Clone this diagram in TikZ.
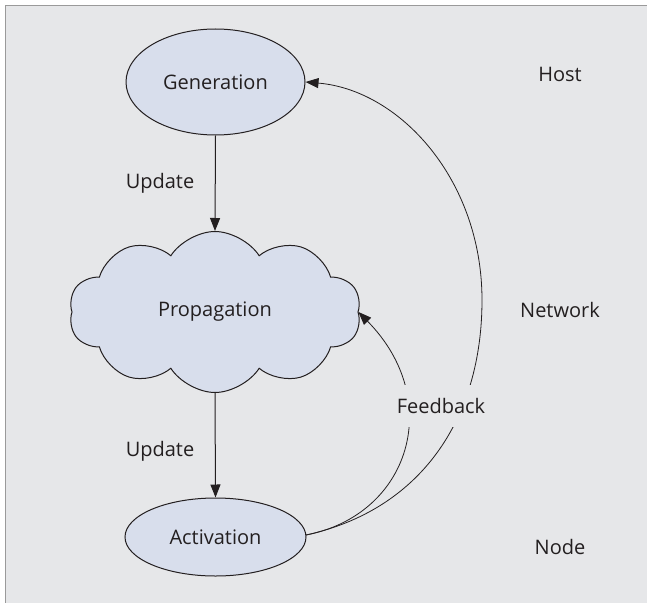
\documentclass[tikz,border=0pt]{standalone}
\usepackage{fontspec}
\setmainfont{Open Sans}
\usetikzlibrary{arrows.meta,shapes.geometric,shapes.symbols}
\definecolor{panelbg}{HTML}{E6E7E9}
\definecolor{panelrule}{HTML}{9A9A9A}
\definecolor{shapefill}{HTML}{D8DEEC}
\definecolor{ink}{HTML}{231F20}
\tikzset{
  lbl/.style={font=\fontsize{20}{24}\selectfont, text=ink},
  stage/.style={ellipse, draw=ink, line width=1pt, fill=shapefill, lbl, inner sep=0pt},
  cloudstage/.style={cloud, cloud puffs=10, cloud puff arc=115, aspect=1.8,
    draw=ink, line width=1pt, fill=shapefill, lbl, inner sep=0pt},
  flow/.style={draw=ink, line width=1pt, -{Triangle[length=13pt,width=10pt]}},
  fb/.style={draw=ink, line width=0.8pt}
}
\begin{document}
\begin{tikzpicture}[x=1pt, y=-1pt]
  \useasboundingbox (0,0) rectangle (647,602);
  % panel
  \fill[white] (0,0) rectangle (647,602);
  \draw[panelrule, fill=panelbg, line width=1.2pt] (5.5,5.5) rectangle (660,615);

  % stages
  \node[stage, minimum width=179pt, minimum height=106pt] (gen) at (215.5,82) {Generation};
  \node[cloudstage, minimum width=292pt, minimum height=161pt] (prop) at (215,312) {Propagation};
  \node[stage, minimum width=181pt, minimum height=78pt] (act) at (215.5,537) {Activation};

  % layer labels
  \node[lbl] (host) at (560,74) {Host};
  \node[lbl] (net) at (560,310) {Network};
  \node[lbl] (nd) at (560,547) {Node};

  % update arrows
  \draw[flow] (gen.south) -- (prop.north);
  \draw[flow] (prop.south) -- (act.north);
  \node[lbl] (up1) at (160,183) {Update};
  \node[lbl] (up2) at (160,451) {Update};

  % feedback loops
  \coordinate (fbstart) at (306,535);
  \coordinate (bend) at (482,300);
  \draw[fb, -{Triangle[length=13pt,width=10pt]}] (fbstart) .. controls (410,515) and (445,400) .. (prop.east);
  \draw[fb, -{Triangle[length=13pt,width=10pt]}] (fbstart) .. controls (420,510) and (482,420) .. (bend)
     .. controls (482,180) and (400,90) .. (gen.east);
  \node[lbl, fill=panelbg, minimum height=42pt, inner xsep=1pt] (feed) at (441,406) {Feedback};
\end{tikzpicture}
\end{document}
